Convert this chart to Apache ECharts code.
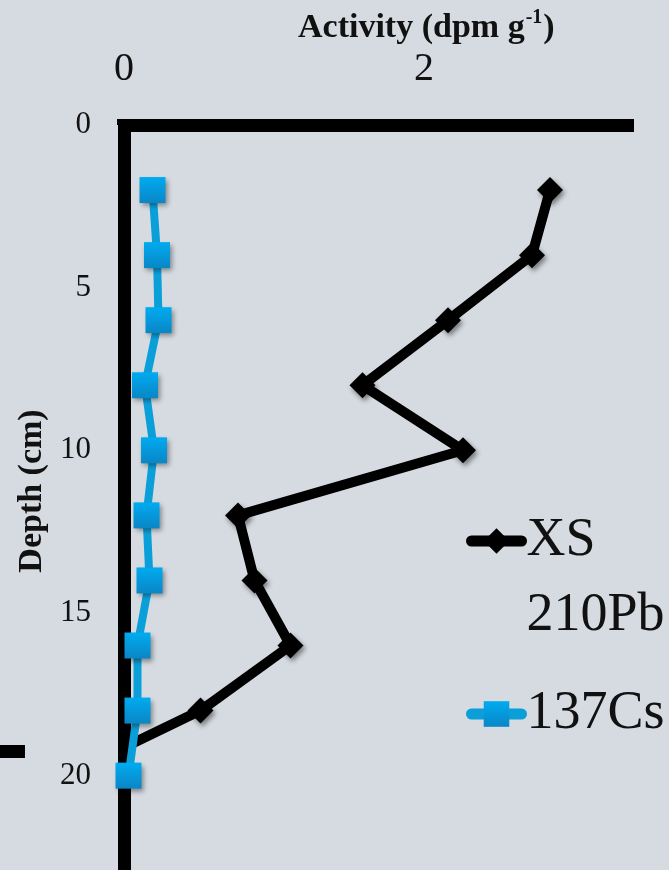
<!DOCTYPE html>
<html>
<head>
<meta charset="utf-8">
<script src="https://cdn.jsdelivr.net/npm/echarts@6/dist/echarts.min.js"></script>
<style>
html,body{margin:0;padding:0;background:#d5dbe1;}
#c{width:669px;height:870px;}
</style>
</head>
<body>
<div id="c"></div>
<script>
// Depth (cm) of each sample
const depths = [2, 4, 6, 8, 10, 12, 14, 16, 18, 20];
// Activity (dpm g-1)
const xs210Pb = [2.84, 2.72, 2.16, 1.59, 2.26, 0.76, 0.87, 1.11, 0.51, -0.39];
const cs137 = [0.19, 0.22, 0.23, 0.14, 0.20, 0.15, 0.17, 0.09, 0.09, 0.03];
const xTicks = [0, 2];
const seriesNames = ['XS 210Pb', '137Cs'];

const FONT = 'Liberation Serif';
const chart = echarts.init(document.getElementById('c'), null, {renderer: 'canvas'});

const pair = (vals) => vals.map((v, i) => [v, depths[i]]);

chart.setOption({
  backgroundColor: '#d5dbe1',
  animation: false,
  title: {
    text: '{a|Activity (dpm g}{s|-1}{a|)}',
    left: 298, top: 8, padding: 0,
    textStyle: {
      rich: {
        a: {fontFamily: FONT, fontWeight: 'bold', fontSize: 34, color: '#111', lineHeight: 40},
        s: {fontFamily: FONT, fontWeight: 'bold', fontSize: 20, color: '#111', verticalAlign: 'top', lineHeight: 40, padding: [0, 1, 14, 1]}
      }
    }
  },
  grid: {left: 124, top: 125, width: 510, height: 813.3, containLabel: false, outerBoundsMode: 'none'},
  xAxis: {
    type: 'value', position: 'top', min: 0, max: 3.4,
    axisLine: {show: true, lineStyle: {color: '#000', width: 13, cap: 'butt'}},
    axisTick: {show: true, customValues: xTicks, length: 6, lineStyle: {color: '#000', width: 14, cap: 'butt'}},
    axisLabel: {customValues: xTicks, fontFamily: FONT, fontSize: 40, color: '#111', margin: 36},
    splitLine: {show: false}
  },
  yAxis: {
    type: 'value', inverse: true, min: 0, max: 25, interval: 5,
    axisLine: {show: true, lineStyle: {color: '#000', width: 13, cap: 'butt'}},
    axisTick: {show: true, length: 6, lineStyle: {color: '#000', width: 12, cap: 'butt'}},
    axisLabel: {fontFamily: FONT, fontSize: 31, color: '#111', margin: 33},
    splitLine: {show: false}
  },
  legend: {
    orient: 'vertical', left: 466, top: 428.5, padding: 0,
    itemWidth: 50, itemHeight: 32, itemGap: 23,
    data: seriesNames,
    formatter: (name) => name === seriesNames[0] ? '\nXS\n210Pb' : name,
    textStyle: {fontFamily: FONT, fontSize: 54, color: '#111', lineHeight: 75},
    lineStyle: {width: 11, cap: 'round'},
    itemStyle: {shadowBlur: 0}
  },
  graphic: [
    {type: 'rect', shape: {x: 0, y: 745, width: 25, height: 13}, style: {fill: '#000'}},
    {type: 'text', x: 32, y: 491, rotation: Math.PI / 2,
     style: {text: 'Depth (cm)', font: 'bold 34px "Liberation Serif"', fill: '#111', align: 'center', verticalAlign: 'middle'}}
  ],
  series: [
    {
      name: seriesNames[0], type: 'line', data: pair(xs210Pb), clip: true,
      symbol: 'diamond', symbolSize: 26,
      itemStyle: {color: '#000', shadowBlur: 5, shadowOffsetX: 2, shadowOffsetY: 3, shadowColor: 'rgba(0,0,0,0.45)'},
      lineStyle: {color: '#000', width: 10, cap: 'round', join: 'round'}
    },
    {
      name: seriesNames[1], type: 'line', data: pair(cs137), clip: true,
      symbol: 'rect', symbolSize: 26,
      itemStyle: {
        color: {type: 'linear', x: 0, y: 0, x2: 0, y2: 1, colorStops: [{offset: 0, color: '#00abf0'}, {offset: 1, color: '#0a86c6'}]},
        shadowBlur: 5, shadowOffsetX: 2, shadowOffsetY: 3, shadowColor: 'rgba(0,0,0,0.4)'
      },
      lineStyle: {color: '#0b9fd9', width: 8, cap: 'round', join: 'round'}
    }
  ]
});
</script>
</body>
</html>
